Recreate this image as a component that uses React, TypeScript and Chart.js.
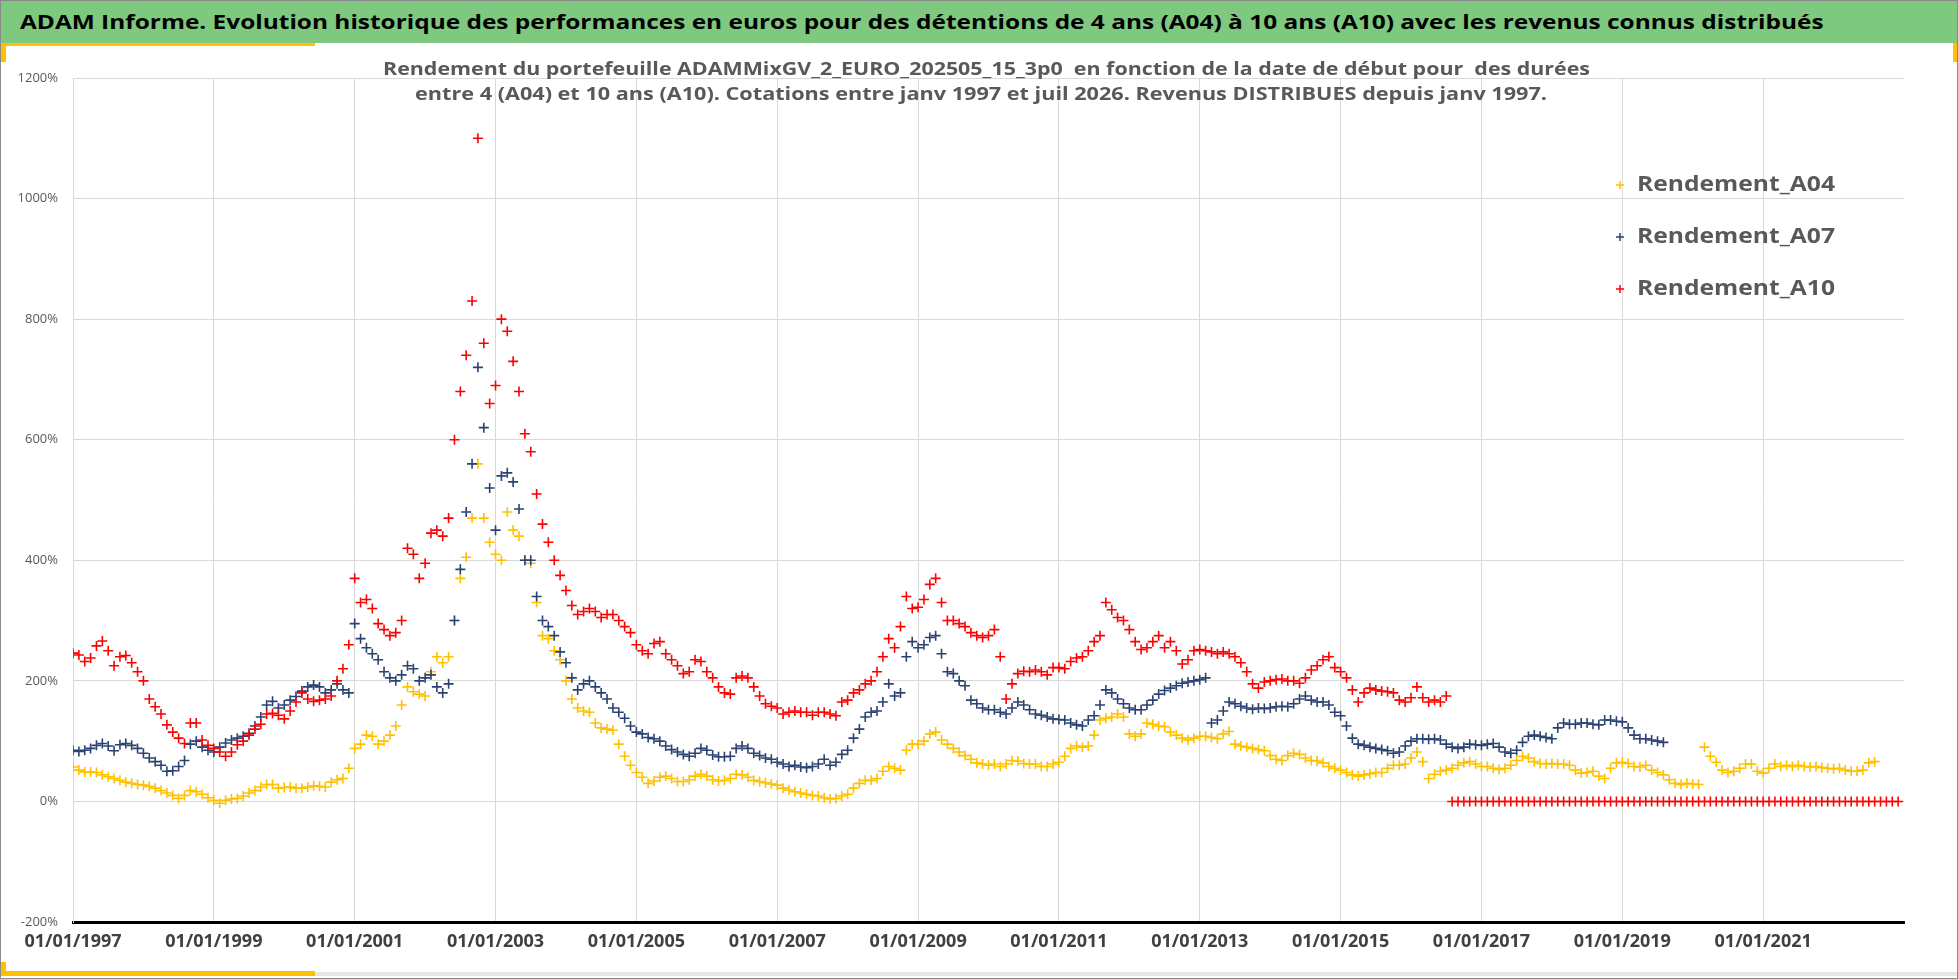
import { useEffect, useLayoutEffect, useRef } from 'react';
import { Chart, registerables } from 'chart.js';

Chart.register(...registerables);

const TITLE =
  'ADAM Informe. Evolution historique des performances en euros pour des détentions de 4 ans (A04) à 10 ans (A10) avec les revenus connus distribués';
const SUBTITLE = [
  'Rendement du portefeuille ADAMMixGV_2_EURO_202505_15_3p0  en fonction de la date de début pour  des durées',
  'entre 4 (A04) et 10 ans (A10). Cotations entre janv 1997 et juil 2026. Revenus DISTRIBUES depuis janv 1997.',
];

// one value per month, first value = janvier 1997
const START_YEAR = 1997;

const a04 = [
  57, 52, 49, 49, 48, 44, 41, 38, 35, 32, 30, 28, // 1997
  27, 25, 22, 18, 14, 10, 5, 10, 18, 16, 12, 6, // 1998
  2, -3, 2, 4, 5, 9, 14, 18, 24, 28, 28, 22, // 1999
  23, 24, 22, 22, 24, 26, 25, 24, 32, 36, 38, 55, // 2000
  88, 95, 110, 108, 95, 100, 110, 125, 160, 190, 182, 178, // 2001
  175, 215, 240, 230, 240, 300, 370, 405, 470, 560, 470, 430, // 2002
  410, 400, 480, 450, 440, 400, 395, 330, 275, 270, 250, 235, // 2003
  200, 170, 155, 150, 148, 130, 122, 120, 118, 95, 75, 60, // 2004
  48, 40, 30, 34, 40, 42, 38, 33, 33, 36, 42, 45, // 2005
  42, 36, 34, 35, 38, 45, 44, 40, 35, 33, 31, 29, // 2006
  27, 22, 19, 16, 14, 12, 10, 9, 6, 4, 5, 9, // 2007
  12, 22, 30, 35, 35, 38, 50, 58, 55, 52, 85, 95, // 2008
  95, 100, 112, 115, 102, 95, 88, 82, 76, 70, 64, 62, // 2009
  60, 62, 58, 62, 68, 67, 63, 62, 62, 58, 58, 62, // 2010
  65, 75, 88, 92, 90, 92, 110, 135, 138, 140, 145, 140, // 2011
  112, 108, 112, 130, 128, 125, 124, 115, 110, 105, 102, 105, // 2012
  108, 108, 106, 104, 112, 116, 95, 92, 90, 88, 86, 84, // 2013
  76, 70, 68, 76, 80, 78, 72, 68, 67, 64, 58, 55, // 2014
  52, 48, 44, 42, 44, 46, 48, 48, 55, 60, 60, 62, // 2015
  72, 82, 66, 38, 45, 50, 52, 55, 60, 64, 66, 62, // 2016
  58, 58, 55, 53, 55, 60, 68, 75, 72, 66, 63, 62, // 2017
  63, 62, 62, 60, 52, 47, 48, 50, 42, 38, 55, 64, // 2018
  65, 63, 58, 57, 60, 52, 48, 44, 36, 30, 28, 30, // 2019
  29, 28, 90, 75, 65, 52, 48, 50, 55, 62, 62, 50, // 2020
  47, 55, 62, 58, 60, 58, 60, 58, 57, 58, 56, 55, // 2021
  54, 55, 52, 50, 50, 52, 64, 66, // 2022
];

const a07 = [
  85, 83, 85, 88, 93, 96, 92, 84, 94, 96, 93, 88, // 1997
  80, 72, 66, 60, 50, 51, 58, 68, 95, 100, 90, 85, // 1998
  82, 90, 97, 102, 105, 108, 113, 125, 140, 160, 166, 155, // 1999
  160, 168, 174, 183, 190, 193, 190, 180, 185, 195, 185, 180, // 2000
  295, 270, 255, 245, 235, 215, 205, 200, 210, 225, 220, 200, // 2001
  205, 210, 190, 180, 195, 300, 385, 480, 560, 720, 620, 520, // 2002
  450, 540, 545, 530, 485, 400, 400, 340, 300, 290, 275, 248, // 2003
  230, 205, 185, 195, 200, 190, 180, 170, 155, 148, 138, 125, // 2004
  115, 112, 106, 104, 100, 92, 86, 82, 78, 75, 80, 88, // 2005
  85, 77, 74, 74, 75, 88, 92, 88, 80, 76, 72, 70, // 2006
  65, 62, 58, 60, 57, 56, 58, 62, 70, 60, 65, 78, // 2007
  85, 105, 120, 140, 148, 150, 165, 195, 175, 180, 240, 265, // 2008
  255, 260, 272, 275, 245, 215, 212, 200, 192, 168, 162, 155, // 2009
  152, 152, 148, 145, 155, 165, 160, 152, 145, 143, 140, 137, // 2010
  136, 135, 130, 127, 125, 135, 142, 160, 185, 180, 170, 162, // 2011
  155, 152, 152, 160, 168, 178, 184, 188, 192, 196, 198, 200, // 2012
  202, 205, 130, 135, 150, 165, 162, 158, 155, 153, 155, 154, // 2013
  155, 157, 158, 157, 162, 170, 175, 168, 165, 165, 160, 148, // 2014
  142, 125, 105, 95, 93, 90, 88, 86, 84, 80, 82, 92, // 2015
  100, 104, 104, 103, 104, 102, 95, 90, 88, 90, 95, 94, // 2016
  93, 95, 96, 90, 82, 80, 85, 98, 108, 110, 108, 106, // 2017
  104, 122, 130, 128, 128, 130, 130, 128, 127, 135, 135, 133, // 2018
  132, 122, 110, 104, 104, 102, 100, 98, // 2019
];

const a10 = [
  246, 243, 232, 238, 258, 266, 250, 225, 240, 242, 230, 215, // 1997
  200, 170, 157, 145, 127, 115, 105, 96, 130, 130, 102, 93, // 1998
  88, 82, 75, 82, 94, 100, 110, 120, 128, 145, 146, 143, // 1999
  137, 150, 165, 180, 170, 166, 168, 170, 175, 200, 220, 260, // 2000
  370, 330, 335, 320, 295, 285, 275, 280, 300, 420, 410, 370, // 2001
  395, 445, 450, 440, 470, 600, 680, 740, 830, 1100, 760, 660, // 2002
  690, 800, 780, 730, 680, 610, 580, 510, 460, 430, 400, 375, // 2003
  350, 325, 310, 315, 320, 315, 305, 310, 310, 300, 290, 280, // 2004
  260, 250, 245, 262, 265, 245, 235, 225, 212, 215, 235, 232, // 2005
  215, 205, 190, 180, 178, 205, 208, 205, 190, 175, 162, 158, // 2006
  155, 145, 148, 150, 148, 148, 143, 148, 148, 145, 142, 165, // 2007
  168, 180, 185, 195, 200, 215, 240, 270, 255, 290, 340, 320, // 2008
  322, 335, 360, 370, 330, 300, 300, 295, 290, 280, 275, 272, // 2009
  275, 285, 240, 170, 195, 212, 216, 215, 218, 215, 210, 222, // 2010
  222, 220, 232, 238, 240, 250, 265, 275, 330, 318, 305, 300, // 2011
  285, 265, 252, 255, 265, 275, 255, 265, 250, 228, 235, 250, // 2012
  252, 250, 248, 245, 248, 245, 240, 230, 215, 195, 188, 198, // 2013
  200, 202, 203, 200, 200, 196, 205, 218, 225, 235, 240, 222, // 2014
  215, 205, 185, 165, 180, 188, 185, 183, 182, 180, 168, 165, // 2015
  172, 190, 172, 165, 168, 165, 175, // 2016
];

// A10 has no complete 10-year window after juil 2016: plotted at 0 (août 2016 - déc 2022)
const A10_TAIL_START = 235;
const a10Tail = [
  0, 0, 0, 0, 0, 0, 0, 0, 0, 0, 0,
  0, 0, 0, 0, 0, 0, 0, 0, 0, 0, 0,
  0, 0, 0, 0, 0, 0, 0, 0, 0, 0, 0,
  0, 0, 0, 0, 0, 0, 0, 0, 0, 0, 0,
  0, 0, 0, 0, 0, 0, 0, 0, 0, 0, 0,
  0, 0, 0, 0, 0, 0, 0, 0, 0, 0, 0,
  0, 0, 0, 0, 0, 0, 0, 0, 0, 0, 0,
];

const X_MIN = 1997;
const X_MAX = 2023;
const Y_MIN = -200;
const Y_MAX = 1200;

const SERIES = [
  { label: 'Rendement_A04', color: '#FFC000' },
  { label: 'Rendement_A07', color: '#2A4272' },
  { label: 'Rendement_A10', color: '#FF0000' },
];

const toPoints = (values: number[], firstMonth: number) =>
  values.map((v, i) => ({ x: START_YEAR + (firstMonth + i) / 12, y: v }));

const FONT = '"Open Sans", "Noto Sans", sans-serif';

function drawCross(ctx: CanvasRenderingContext2D, x: number, y: number, r: number) {
  ctx.beginPath();
  ctx.moveTo(x - r, y);
  ctx.lineTo(x + r, y);
  ctx.moveTo(x, y - r);
  ctx.lineTo(x, y + r);
  ctx.stroke();
}

// text stretched horizontally to the width it takes in the sheet
function fitText(ctx: CanvasRenderingContext2D, text: string, x: number, y: number, width: number) {
  const w = ctx.measureText(text).width;
  ctx.save();
  ctx.translate(x, y);
  ctx.scale(width / w, 1);
  ctx.fillText(text, 0, 0);
  ctx.restore();
}

// subtitle and legend sit inside the plot area, like in the Excel sheet
const overlayText = {
  id: 'overlayText',
  afterDraw(chart: Chart) {
    const ctx = chart.ctx;
    ctx.save();
    ctx.fillStyle = '#595959';
    ctx.textAlign = 'left';
    ctx.textBaseline = 'middle';
    ctx.font = `bold 18px ${FONT}`;
    fitText(ctx, SUBTITLE[0], 383, 70, 1207);
    fitText(ctx, SUBTITLE[1], 415, 95, 1132);

    ctx.font = `bold 21px ${FONT}`;
    SERIES.forEach((s, i) => {
      const y = 185 + i * 52;
      ctx.strokeStyle = s.color;
      ctx.lineWidth = 1.5;
      drawCross(ctx, 1620, y, 4);
      ctx.fillStyle = '#595959';
      fitText(ctx, s.label, 1637, y, 198);
    });
    ctx.restore();
  },
};

function RendementChart() {
  const canvasRef = useRef<HTMLCanvasElement>(null);

  useEffect(() => {
    if (!canvasRef.current) return;

    const seriesData = [
      toPoints(a04, 0),
      toPoints(a07, 0),
      [...toPoints(a10, 0), ...toPoints(a10Tail, A10_TAIL_START)],
    ];

    const chart = new Chart(canvasRef.current, {
      type: 'scatter',
      data: {
        datasets: SERIES.map((s, i) => ({
          label: s.label,
          data: seriesData[i],
          pointStyle: 'cross',
          pointRadius: 5,
          pointBorderWidth: 1.6,
          borderColor: s.color,
          backgroundColor: s.color,
          showLine: false,
          order: 3 - i, // A10 on top, as in Excel
        })),
      },
      options: {
        animation: false,
        responsive: true,
        maintainAspectRatio: false,
        layout: { padding: { top: 78, right: 54, left: 0, bottom: 0 } },
        plugins: {
          legend: { display: false },
          tooltip: { enabled: false },
        },
        scales: {
          x: {
            type: 'linear',
            min: X_MIN,
            max: X_MAX,
            afterFit: (scale) => {
              scale.height = 57;
            },
            ticks: {
              stepSize: 2,
              autoSkip: false,
              maxRotation: 0,
              padding: 9,
              color: '#404040',
              font: { family: FONT, size: 18, weight: 'bold' },
              callback: (v) => (Number(v) < X_MAX ? `01/01/${v}` : ''),
            },
            grid: {
              drawTicks: false,
              color: (c) => (c.tick && c.tick.value === X_MAX ? 'rgba(0,0,0,0)' : '#d9d9d9'),
            },
            border: { color: '#000000', width: 3 },
          },
          y: {
            min: Y_MIN,
            max: Y_MAX,
            afterFit: (scale) => {
              scale.width = 73;
            },
            ticks: {
              stepSize: 200,
              padding: 15,
              color: '#595959',
              font: { family: FONT, size: 13 },
              callback: (v) => `${v}%`,
            },
            grid: { drawTicks: false, color: '#d9d9d9' },
            border: { color: '#d9d9d9', width: 1 },
          },
        },
      },
      plugins: [overlayText],
    });

    return () => chart.destroy();
  }, []);

  return <canvas ref={canvasRef} />;
}

function Banner() {
  const textRef = useRef<HTMLSpanElement>(null);

  useLayoutEffect(() => {
    const el = textRef.current;
    if (!el) return;
    el.style.transform = `scaleX(${1803 / el.offsetWidth})`;
  }, []);

  return (
    <div
      style={{
        position: 'absolute',
        left: 0,
        top: 0,
        width: 1958,
        height: 43,
        background: '#7EC87F',
        overflow: 'hidden',
      }}
    >
      <span
        ref={textRef}
        style={{
          position: 'absolute',
          left: 20,
          top: 0,
          color: '#000000',
          fontFamily: FONT,
          fontWeight: 700,
          fontSize: 20,
          lineHeight: '44px',
          whiteSpace: 'pre',
          transformOrigin: '0 50%',
        }}
      >
        {TITLE}
      </span>
    </div>
  );
}

export default function App() {
  const abs = { position: 'absolute' as const };
  return (
    <div
      style={{
        position: 'fixed',
        left: 0,
        top: 0,
        width: 1958,
        height: 979,
        background: '#ffffff',
        overflow: 'hidden',
      }}
    >
      <div style={{ ...abs, left: 0, top: 0, width: 1958, height: 979 }}>
        <RendementChart />
      </div>
      <Banner />
      <div style={{ ...abs, left: 0, top: 43, width: 315, height: 3, background: '#FFC000' }} />
      <div style={{ ...abs, left: 0, top: 43, width: 6, height: 19, background: '#FFC000' }} />
      <div style={{ ...abs, right: 0, top: 43, width: 5, height: 19, background: '#FFC000' }} />
      <div style={{ ...abs, left: 315, top: 972, width: 1643, height: 4, background: '#e6e6e6' }} />
      <div style={{ ...abs, left: 0, top: 971, width: 315, height: 5, background: '#FFC000' }} />
      <div style={{ ...abs, left: 0, top: 962, width: 6, height: 14, background: '#FFC000' }} />
      <div
        style={{
          ...abs,
          left: 0,
          top: 0,
          width: 1958,
          height: 979,
          border: '1px solid #8a8a8a',
          boxSizing: 'border-box',
          pointerEvents: 'none',
        }}
      />
    </div>
  );
}
